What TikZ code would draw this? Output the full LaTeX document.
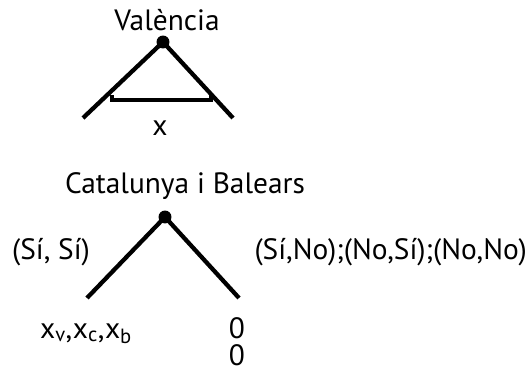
\documentclass[tikz,border=0pt]{standalone}
\usepackage{fontspec}
\setmainfont{PT Sans}
\usetikzlibrary{positioning}
\tikzset{branch/.style={line width=4.3pt},
  nodedot/.style={circle,fill=black,inner sep=0pt,minimum size=13pt},
  lbl/.style={font=\fontsize{29.5}{32}\selectfont,inner sep=0pt,anchor=base}}

\begin{document}
\begin{tikzpicture}[x=1bp,y=-1bp]
\useasboundingbox (0,0) rectangle (531,374);
% first tree: Valencia
\node[nodedot] (v) at (163,42) {};
\node[lbl] (vname) at (167,30) {València};
\coordinate (vl) at (83,118);
\coordinate (vr) at (233,118);
\draw[branch] (v.center) -- (vl);
\draw[branch] (v.center) -- (vr);
\coordinate (bl) at (112,95);
\coordinate (br) at (211,95);
\draw[line width=3.5pt] (bl) -- ++(0,5) -| (br);
\node[lbl] (vx) at (160,135) {x};
% second tree: Catalunya i Balears
\node[lbl] (cname) at (185,193) {Catalunya i Balears};
\node[nodedot] (c) at (165,217) {};
\coordinate (cl) at (87,298);
\coordinate (cr) at (239,298);
\draw[branch] (c.center) -- (cl);
\draw[branch] (c.center) -- (cr);
\node[lbl] (ss) at (51,259) {(Sí, Sí)};
\node[lbl,anchor=base east] (rest) at (527,259) {(Sí,No);(No,Sí);(No,No)};
\node[lbl] (pl) at (86,338) {x\textsubscript{v},x\textsubscript{c},x\textsubscript{b}};
\node[lbl] (p1) at (237,338) {0};
\node[lbl] (p2) at (237,365) {0};
\end{tikzpicture}
\end{document}
